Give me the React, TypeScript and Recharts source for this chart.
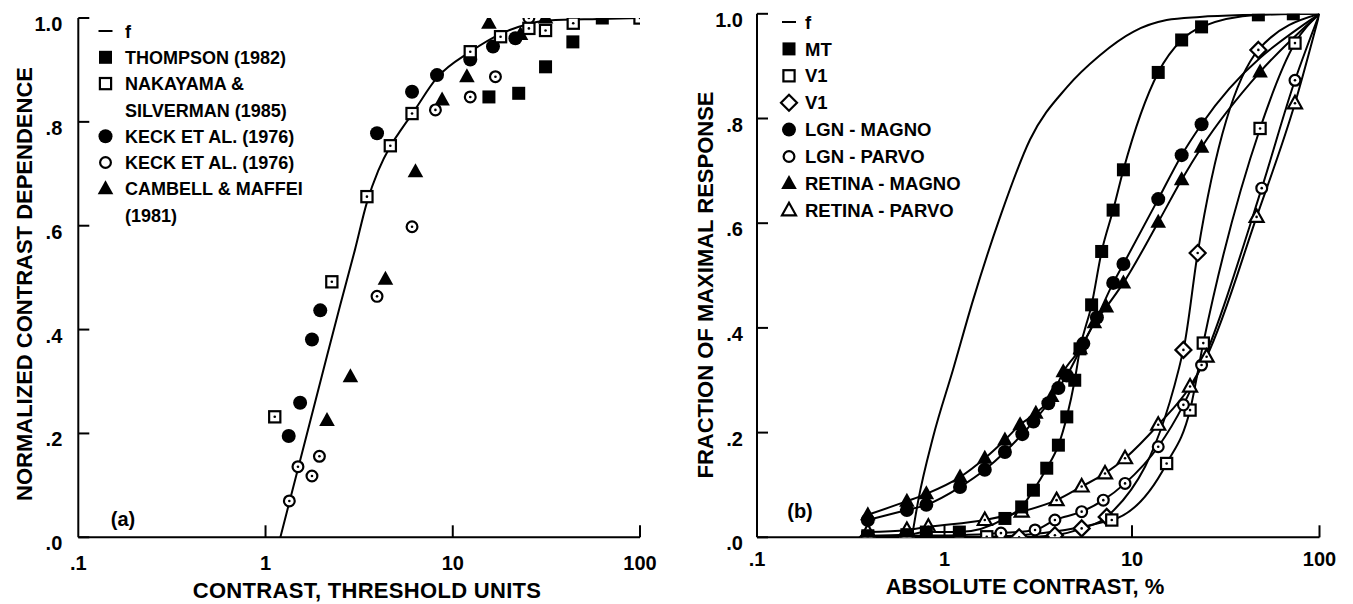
import React from "react";
import { ComposedChart, Line, Scatter, XAxis, YAxis, Legend } from "recharts";

const FONT = "'Liberation Sans', Arial, Helvetica, sans-serif";

// ---------- panel (a) ----------
const fAX = [1.2, 1.5, 2.0, 2.5, 3.0, 3.48, 4.0, 4.64, 5.3, 6.06, 8.24, 12.4, 18.4, 24.5, 32.6, 60, 100];
const fAY = [0, 0.136, 0.311, 0.446, 0.553, 0.645, 0.706, 0.753, 0.785, 0.815, 0.885, 0.935, 0.971, 0.987, 0.995, 0.998, 1.0];

const thompsonX = [15.6, 22.5, 31.3, 43.8, 62.9];
const thompsonY = [0.848, 0.855, 0.906, 0.954, 1.0];

const nakayamaX = [1.12, 2.26, 3.48, 4.64, 6.06, 12.4, 18.0, 25.5, 31.3, 44, 100];
const nakayamaY = [0.232, 0.492, 0.656, 0.754, 0.816, 0.935, 0.964, 0.98, 0.976, 0.99, 1.0];

const keckFX = [1.33, 1.53, 1.77, 1.96, 3.94, 6.06, 8.24, 12.4, 16.4, 21.6];
const keckFY = [0.195, 0.259, 0.381, 0.437, 0.778, 0.858, 0.89, 0.92, 0.945, 0.961];

const keckOX = [1.34, 1.49, 1.77, 1.94, 3.94, 6.06, 8.08, 12.4, 16.9, 25.5];
const keckOY = [0.07, 0.136, 0.118, 0.156, 0.464, 0.598, 0.823, 0.848, 0.887, 1.0];

const cambellX = [2.13, 2.84, 4.37, 6.32, 8.77, 11.9, 15.6, 23, 31.3];
const cambellY = [0.225, 0.309, 0.497, 0.704, 0.842, 0.887, 0.99, 0.968, 1.0];

// ---------- panel (b) ----------
const fBX = [0.67, 0.725, 0.87, 1.11, 1.42, 1.98, 2.86, 4.5, 6.7, 10.2, 15.3, 23, 42.7, 100];
const fBY = [0, 0.071, 0.192, 0.32, 0.453, 0.612, 0.76, 0.86, 0.92, 0.966, 0.988, 0.994, 0.998, 1.0];

const mtX = [0.39, 0.63, 0.8, 1.2, 2.1, 2.58, 2.98, 3.51, 4.05, 4.49, 4.95, 5.28, 6.09, 6.89, 7.93, 9.0, 13.8, 18.4, 23.5, 47.2, 72.5, 100];
const mtY = [0.003, 0.005, 0.01, 0.01, 0.036, 0.058, 0.09, 0.132, 0.176, 0.23, 0.3, 0.36, 0.444, 0.546, 0.625, 0.702, 0.888, 0.95, 0.975, 0.998, 1.0, 1.0];

const v1SqX = [0.39, 0.63, 1.68, 7.8, 15.3, 20.4, 24.0, 48.2, 74, 100];
const v1SqY = [0, 0, 0.001, 0.033, 0.141, 0.243, 0.371, 0.781, 0.944, 1.0];

const v1DiX = [0.39, 0.63, 2.5, 3.88, 5.39, 7.33, 18.8, 22.4, 47.2, 100];
const v1DiY = [0, 0, 0, 0.004, 0.017, 0.039, 0.358, 0.543, 0.931, 1.0];

const lgnMX = [0.39, 0.63, 0.8, 1.21, 1.64, 2.1, 2.6, 2.98, 3.58, 4.05, 4.49, 5.5, 6.5, 7.94, 9.0, 13.8, 18.4, 23.5, 100];
const lgnMY = [0.033, 0.052, 0.062, 0.096, 0.129, 0.163, 0.197, 0.221, 0.256, 0.285, 0.309, 0.37, 0.42, 0.486, 0.522, 0.646, 0.73, 0.789, 1.0];

const lgnPX = [0.39, 0.63, 1.2, 2.0, 3.04, 3.88, 5.39, 7.03, 9.18, 13.8, 18.8, 23.5, 49.2, 74, 100];
const lgnPY = [0, 0.003, 0.004, 0.008, 0.014, 0.033, 0.049, 0.071, 0.103, 0.173, 0.253, 0.329, 0.667, 0.873, 1.0];

const retMX = [0.39, 0.63, 0.8, 1.21, 1.64, 2.1, 2.53, 3.07, 3.73, 4.3, 5.3, 6.3, 7.3, 9.0, 13.8, 18.4, 23.5, 48.2, 100];
const retMY = [0.043, 0.069, 0.083, 0.115, 0.151, 0.186, 0.215, 0.237, 0.269, 0.316, 0.36, 0.41, 0.44, 0.486, 0.602, 0.683, 0.745, 0.889, 1.0];

const retPX = [0.39, 0.63, 0.82, 1.64, 2.58, 3.96, 5.39, 7.18, 9.18, 13.8, 20.4, 25.0, 46.2, 74, 100];
const retPY = [0.01, 0.014, 0.02, 0.033, 0.049, 0.071, 0.097, 0.122, 0.151, 0.215, 0.288, 0.345, 0.612, 0.829, 1.0];

const xTicks = [0.1, 1, 10, 100];
const yTicks = [0, 0.2, 0.4, 0.6, 0.8, 1];

type Kind = "line" | "sqF" | "sqO" | "ciF" | "ciO" | "trF" | "trO" | "diO";

const xy = (xs: number[], ys: number[]) => xs.map((x, i) => ({ x, y: ys[i] }));

const seriesA = [
  { name: "KECK ET AL. (1976)", kind: "ciF" as Kind, data: xy(keckFX, keckFY) },
  { name: "THOMPSON (1982)", kind: "sqF" as Kind, data: xy(thompsonX, thompsonY) },
  { name: "CAMBELL & MAFFEI\n(1981)", kind: "trF" as Kind, data: xy(cambellX, cambellY) },
  { name: "KECK ET AL. (1976)", kind: "ciO" as Kind, data: xy(keckOX, keckOY) },
  { name: "NAKAYAMA &\nSILVERMAN (1985)", kind: "sqO" as Kind, data: xy(nakayamaX, nakayamaY) },
];
const legendOrderA = [1, 4, 0, 3, 2];

const seriesB = [
  { name: "V1", kind: "diO" as Kind, data: xy(v1DiX, v1DiY) },
  { name: "V1", kind: "sqO" as Kind, data: xy(v1SqX, v1SqY) },
  { name: "LGN - PARVO", kind: "ciO" as Kind, data: xy(lgnPX, lgnPY) },
  { name: "RETINA - PARVO", kind: "trO" as Kind, data: xy(retPX, retPY) },
  { name: "LGN - MAGNO", kind: "ciF" as Kind, data: xy(lgnMX, lgnMY) },
  { name: "RETINA - MAGNO", kind: "trF" as Kind, data: xy(retMX, retMY) },
  { name: "MT", kind: "sqF" as Kind, data: xy(mtX, mtY) },
];
const legendOrderB = [6, 1, 0, 4, 2, 5, 3];

function Marker({ kind, cx, cy, dot = true }: { kind: Kind; cx: number; cy: number; dot?: boolean }) {
  const sw = 2.2;
  const c = dot ? <circle cx={cx} cy={cy} r={1.3} fill="#000" /> : null;
  switch (kind) {
    case "sqF":
      return <rect x={cx - 6.5} y={cy - 6.5} width={13} height={13} fill="#000" />;
    case "sqO":
      return (
        <g>
          <rect x={cx - 5.6} y={cy - 5.6} width={11.2} height={11.2} fill="#fff" stroke="#000" strokeWidth={sw} />
          {c}
        </g>
      );
    case "ciF":
      return <circle cx={cx} cy={cy} r={7} fill="#000" />;
    case "ciO":
      return (
        <g>
          <circle cx={cx} cy={cy} r={5.4} fill="#fff" stroke="#000" strokeWidth={sw} />
          {c}
        </g>
      );
    case "trF":
      return <polygon points={`${cx},${cy - 8.5} ${cx + 7.8},${cy + 5.5} ${cx - 7.8},${cy + 5.5}`} fill="#000" />;
    case "trO":
      return (
        <g>
          <polygon
            points={`${cx},${cy - 7.5} ${cx + 7},${cy + 5} ${cx - 7},${cy + 5}`}
            fill="#fff"
            stroke="#000"
            strokeWidth={sw}
            strokeLinejoin="miter"
          />
          {c}
        </g>
      );
    case "diO":
      return (
        <g>
          <polygon
            points={`${cx},${cy - 8} ${cx + 8},${cy} ${cx},${cy + 8} ${cx - 8},${cy}`}
            fill="#fff"
            stroke="#000"
            strokeWidth={sw}
          />
          {c}
        </g>
      );
    default:
      return <line x1={cx - 7} x2={cx + 7} y1={cy} y2={cy} stroke="#000" strokeWidth={2} />;
  }
}

const fmtX = (v: number) => (v < 1 ? ".1" : String(v));
const fmtY = (v: number) => (v === 1 ? "1.0" : "." + Math.round(v * 10));

const makeXTick = (dy: number) => (props: any) => {
  const { x, y, payload } = props;
  return (
    <g>
      {payload.value > 0.1 && <line x1={x} x2={x} y1={y} y2={y - 12} stroke="#000" strokeWidth={2} />}
      <text x={x} y={y + dy} textAnchor="middle" fontFamily={FONT} fontWeight="bold" fontSize={20} fill="#000">
        {fmtX(payload.value)}
      </text>
    </g>
  );
};

const makeYTick = (gap: number) => (props: any) => {
  const { x, y, payload } = props;
  return (
    <g>
      <line x1={x} x2={x + 11} y1={y} y2={y} stroke="#000" strokeWidth={2} />
      <text x={x - gap} y={y + 13} textAnchor="end" fontFamily={FONT} fontWeight="bold" fontSize={20} fill="#000">
        {fmtY(payload.value)}
      </text>
    </g>
  );
};

const LegendBox = ({
  rows,
  markX,
  textX,
  y0,
  step,
  size,
}: {
  rows: { kind: Kind | null; text: string }[];
  markX: number;
  textX: number;
  y0: number;
  step: number;
  size: number;
}) => (
  <svg width={330} height={240} style={{ display: "block" }}>
    {rows.map((r, i) => {
      const cy = y0 + i * step;
      return (
        <g key={i}>
          {r.kind && <Marker kind={r.kind} cx={markX} cy={cy} dot={false} />}
          <text x={textX} y={cy + 6.6} fontFamily={FONT} fontWeight="bold" fontSize={size} fill="#000">
            {r.text}
          </text>
        </g>
      );
    })}
  </svg>
);

const legendRows = (series: { name: string; kind: Kind }[], order: number[]) => {
  const rows: { kind: Kind | null; text: string }[] = [{ kind: "line", text: "f" }];
  order.forEach((i) => {
    const parts = series[i].name.split("\n");
    parts.forEach((p, j) => rows.push({ kind: j === 0 ? series[i].kind : null, text: p }));
  });
  return rows;
};

const titleStyle = { fontFamily: FONT, fontWeight: "bold" as const, fontSize: 22, fill: "#000" };

function PanelA() {
  return (
    <ComposedChart width={680} height={604} margin={{ top: 18, right: 40, bottom: 26.7, left: 18.3 }}>
      <XAxis
        type="number"
        dataKey="x"
        scale="log"
        domain={[0.1, 100]}
        allowDataOverflow
        ticks={xTicks}
        interval={0}
        tickSize={0}
        tickMargin={0}
        tickLine={false}
        tick={makeXTick(33)}
        height={40}
        axisLine={{ stroke: "#000", strokeWidth: 2 }}
        label={() => (
          <text x={367} y={598} textAnchor="middle" {...titleStyle} letterSpacing={0.3}>
            CONTRAST, THRESHOLD UNITS
          </text>
        )}
      />
      <YAxis
        type="number"
        dataKey="y"
        domain={[0, 1]}
        allowDataOverflow
        ticks={yTicks}
        interval={0}
        tickSize={0}
        tickMargin={0}
        tickLine={false}
        tick={makeYTick(16)}
        width={60}
        axisLine={{ stroke: "#000", strokeWidth: 2 }}
        label={() => (
          <g>
            <text x={24} y={284} transform="rotate(-90 24 284)" textAnchor="middle" dominantBaseline="central" {...titleStyle}>
              NORMALIZED CONTRAST DEPENDENCE
            </text>
            <text x={123} y={526} textAnchor="middle" {...titleStyle} fontSize={20}>
              (a)
            </text>
          </g>
        )}
      />
      <Legend
        layout="vertical"
        align="center"
        verticalAlign="middle"
        wrapperStyle={{ left: 0, top: 0, width: 330, height: 240 }}
        content={() => (
          <LegendBox rows={legendRows(seriesA, legendOrderA)} markX={105.5} textX={125} y0={31} step={26.3} size={18} />
        )}
      />
      <Line
        data={xy(fAX, fAY)}
        dataKey="y"
        type="monotone"
        stroke="#000"
        strokeWidth={2}
        dot={false}
        activeDot={false}
        isAnimationActive={false}
      />
      {seriesA.map((s, i) => (
        <Scatter
          key={i}
          data={s.data}
          dataKey="y"
          isAnimationActive={false}
          shape={(p: any) => <Marker kind={s.kind} cx={p.cx} cy={p.cy} />}
        />
      ))}
    </ComposedChart>
  );
}

function PanelB() {
  return (
    <ComposedChart width={673} height={604} margin={{ top: 13.8, right: 33.5, bottom: 26.7, left: 17 }}>
      <XAxis
        type="number"
        dataKey="x"
        scale="log"
        domain={[0.1, 100]}
        allowDataOverflow
        ticks={xTicks}
        interval={0}
        tickSize={0}
        tickMargin={0}
        tickLine={false}
        tick={makeXTick(29)}
        height={40}
        axisLine={{ stroke: "#000", strokeWidth: 2 }}
        label={() => (
          <text x={345} y={594} textAnchor="middle" {...titleStyle}>
            ABSOLUTE CONTRAST, %
          </text>
        )}
      />
      <YAxis
        type="number"
        dataKey="y"
        domain={[0, 1]}
        allowDataOverflow
        ticks={yTicks}
        interval={0}
        tickSize={0}
        tickMargin={0}
        tickLine={false}
        tick={makeYTick(14)}
        width={60}
        axisLine={{ stroke: "#000", strokeWidth: 2 }}
        label={() => (
          <g>
            <text x={25} y={285} transform="rotate(-90 25 285)" textAnchor="middle" dominantBaseline="central" {...titleStyle}>
              FRACTION OF MAXIMAL RESPONSE
            </text>
            <text x={120} y={518} textAnchor="middle" {...titleStyle} fontSize={20}>
              (b)
            </text>
          </g>
        )}
      />
      <Legend
        layout="vertical"
        align="center"
        verticalAlign="middle"
        wrapperStyle={{ left: 0, top: 0, width: 330, height: 240 }}
        content={() => (
          <LegendBox rows={legendRows(seriesB, legendOrderB)} markX={109} textX={125} y0={22} step={26.9} size={18.5} />
        )}
      />
      <Line
        data={xy(fBX, fBY)}
        dataKey="y"
        type="monotone"
        stroke="#000"
        strokeWidth={2}
        dot={false}
        activeDot={false}
        isAnimationActive={false}
      />
      {seriesB.map((s, i) => (
        <Line
          key={i}
          data={s.data}
          dataKey="y"
          type="monotone"
          stroke="#000"
          strokeWidth={2}
          activeDot={false}
          isAnimationActive={false}
          dot={(p: any) =>
            p.payload.x >= 100 ? (
              <g key={`d${i}-${p.index}`} />
            ) : (
              <g key={`d${i}-${p.index}`}>
                <Marker kind={s.kind} cx={p.cx} cy={p.cy} />
              </g>
            )
          }
        />
      ))}
    </ComposedChart>
  );
}

export default function App() {
  return (
    <div style={{ position: "absolute", left: 0, top: 0, width: 1353, height: 604, background: "#fff" }}>
      <div style={{ position: "absolute", left: 0, top: 0 }}>
        <PanelA />
      </div>
      <div style={{ position: "absolute", left: 680, top: 0 }}>
        <PanelB />
      </div>
    </div>
  );
}
